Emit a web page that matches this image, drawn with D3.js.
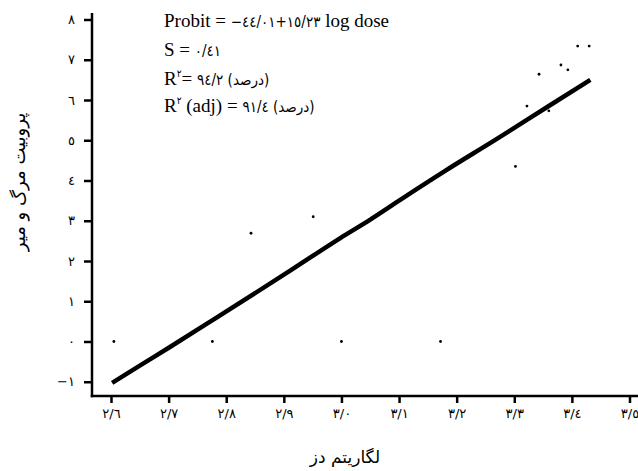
<!DOCTYPE html>
<html>
<head>
<meta charset="utf-8">
<script src="https://cdn.jsdelivr.net/npm/d3@7"></script>
<style>
	body { margin: 0; background: #fff; }
	svg { display: block; }
	.tick-label { font-family: 'DejaVu Sans', sans-serif; font-size: 13px; fill: #000; }
	.axis-label { font-family: 'DejaVu Sans', sans-serif; font-size: 17px; fill: #000; }
	.stat { font-family: 'Liberation Serif', 'DejaVu Serif', serif; font-size: 19px; fill: #000; }
	.num { font-family: 'DejaVu Sans Condensed', 'DejaVu Sans', sans-serif; font-size: 15px; }
</style>
</head>
<body>
<svg id="chart-svg" width="638" height="471"></svg>
<script>
// fitted probit line (log dose, probit)
const lineLogDose = [2.602, 2.65, 2.701, 2.784, 2.85, 2.911, 2.998, 3.05, 3.102, 3.18, 3.267, 3.362, 3.432];
const lineProbit = [-1.03, -0.6, -0.15, 0.6, 1.2, 1.76, 2.57, 3.03, 3.52, 4.24, 5.01, 5.87, 6.5];

// observed points
const pointLogDose = [2.605, 2.776, 3.0, 3.172, 2.843, 2.951, 3.302, 3.322, 3.36, 3.343, 3.381, 3.393, 3.41, 3.43];
const pointProbit = [0, 0, 0, 0, 2.69, 3.1, 4.35, 5.85, 5.73, 6.64, 6.87, 6.75, 7.34, 7.34];

const xTicks = [2.6, 2.7, 2.8, 2.9, 3.0, 3.1, 3.2, 3.3, 3.4, 3.5];
const yTicks = [-1, 0, 1, 2, 3, 4, 5, 6, 7, 8];

const xTitle = 'لگاریتم دز';
const yTitle = 'پروبیت مرگ و میر';

const svg = d3.select('#chart-svg');
const W = 638, H = 471;
const axisX = 92, axisY = 396;
const LRM = '\u200E';

const xScale = d3.scaleLinear().domain([2.6, 3.5]).range([111, 629.5]);
const yScale = d3.scaleLinear().domain([0, 8]).range([341.5, 19.5]);

const faDigits = '٠١٢٣٤٥٦٧٨٩';
function toFa(s) {
	return String(s).replace(/[0-9]/g, (c) => faDigits[+c]).replace('.', '/').replace('-', '−');
}

// axes
const xAxis = d3.axisBottom(xScale).tickValues(xTicks).tickSize(7).tickSizeOuter(0)
	.tickFormat((d) => toFa(d3.format('.1f')(d)));
const gx = svg.append('g').attr('transform', 'translate(0,' + axisY + ')').call(xAxis);
const yAxis = d3.axisLeft(yScale).tickValues(yTicks).tickSize(8).tickSizeOuter(0)
	.tickFormat((d) => toFa(d));
const gy = svg.append('g').attr('transform', 'translate(' + axisX + ',0)').call(yAxis);

[gx, gy].forEach((g) => {
	g.select('.domain').remove();
	g.selectAll('.tick line').attr('stroke', '#000').attr('stroke-width', 2.5);
	g.selectAll('.tick text').attr('class', 'tick-label').attr('fill', null);
	g.attr('font-family', null).attr('font-size', null);
});
gx.selectAll('.tick text').attr('dy', '1.1em').attr('y', 8);
gy.selectAll('.tick text').attr('x', -17);

svg.append('line').attr('x1', axisX).attr('x2', axisX).attr('y1', 13).attr('y2', axisY + 1.25)
	.attr('stroke', '#000').attr('stroke-width', 2.5);
svg.append('line').attr('x1', axisX - 1.25).attr('x2', W).attr('y1', axisY).attr('y2', axisY)
	.attr('stroke', '#000').attr('stroke-width', 2.5);

// fitted line
const lineData = lineLogDose.map((d, i) => [d, lineProbit[i]]);
svg.append('path')
	.datum(lineData)
	.attr('d', d3.line().curve(d3.curveMonotoneX).x((d) => xScale(d[0])).y((d) => yScale(d[1])))
	.attr('fill', 'none')
	.attr('stroke', '#000')
	.attr('stroke-width', 4.5);

// points
svg.selectAll('.obs')
	.data(pointLogDose.map((d, i) => [d, pointProbit[i]]))
	.enter()
	.append('circle')
	.attr('class', 'obs')
	.attr('cx', (d) => xScale(d[0]))
	.attr('cy', (d) => yScale(d[1]))
	.attr('r', 1.4)
	.attr('fill', '#000');

// stats text
const statX = 164;
const t1 = svg.append('text').attr('class', 'stat').attr('x', statX).attr('y', 27);
t1.append('tspan').text('Probit = ');
t1.append('tspan').attr('class', 'num').text('−٤٤/٠١' + LRM + '+' + LRM + '١٥/٢٣' + LRM);
t1.append('tspan').text(' log dose');

const t2 = svg.append('text').attr('class', 'stat').attr('x', statX).attr('y', 56);
t2.append('tspan').text('S = ');
t2.append('tspan').attr('class', 'num').text('٠/٤١');

const t3 = svg.append('text').attr('class', 'stat').attr('x', statX).attr('y', 85);
t3.append('tspan').text('R');
t3.append('tspan').attr('class', 'num').attr('dy', -8).style('font-size', '10px').text('٢' + LRM);
t3.append('tspan').attr('dy', 8).text('= ');
t3.append('tspan').attr('class', 'num').text('٩٤/٢' + LRM + ' (درصد)');

const t4 = svg.append('text').attr('class', 'stat').attr('x', statX).attr('y', 112);
t4.append('tspan').text('R');
t4.append('tspan').attr('class', 'num').attr('dy', -8).style('font-size', '10px').text('٢' + LRM);
t4.append('tspan').attr('dy', 8).text(' (adj) = ');
t4.append('tspan').attr('class', 'num').text('٩١/٤' + LRM + ' (درصد)');

// axis titles
svg.append('text').attr('class', 'axis-label')
	.attr('x', 345).attr('y', 463).attr('text-anchor', 'middle')
	.text(xTitle);
svg.append('text').attr('class', 'axis-label')
	.style('font-size', '18px')
	.attr('transform', 'translate(25,182) rotate(-90)')
	.attr('text-anchor', 'middle')
	.text(yTitle);
</script>
</body>
</html>
